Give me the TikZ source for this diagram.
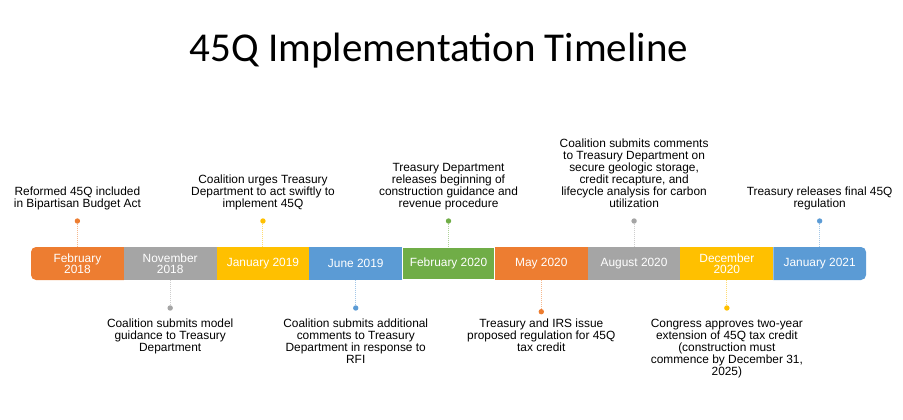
\documentclass[tikz,border=0pt]{standalone}
\usepackage{fontspec}
\setmainfont{Liberation Sans}
\newfontfamily\titlefont{Carlito}
\usetikzlibrary{positioning,backgrounds}
\definecolor{tlorange}{HTML}{ED7D31}
\definecolor{tlgray}{HTML}{A5A5A5}
\definecolor{tlgold}{HTML}{FFC000}
\definecolor{tlblue}{HTML}{5B9BD5}
\definecolor{tlgreen}{HTML}{70AD47}
\begin{document}
\begin{tikzpicture}[x=1pt,y=1pt]
    \tikzstyle{every node}+=[inner sep=0pt, outer sep=0pt]
    \tikzstyle{seg}=[minimum width=92.78pt, minimum height=33pt, text=white, align=center, font=\fontsize{11.9}{11.5}\selectfont]
    \tikzstyle{tdot}=[circle, minimum size=5.4pt]
    \tikzstyle{note}=[align=center, font=\fontsize{11.9}{12}\selectfont]
    \tikzstyle{upnote}=[note, execute at end node={\vphantom{g}}]
    \tikzstyle{stem}=[line width=1pt, dash pattern=on 1pt off 1pt]
    \useasboundingbox (0,0) rectangle (903,-420);
    \node [anchor=base, font=\titlefont\fontsize{41}{41}\selectfont] (title) at (439,-62) {45Q Implementation Timeline};
    \node [seg] (s1) at (77.4,-263.5) {February\\2018};
    \node [seg, fill=tlgray, right=0pt of s1] (s2) {November\\2018};
    \node [seg, fill=tlgold, right=0pt of s2] (s3) {January 2019};
    \node [seg, fill=tlblue, right=0pt of s3] (s4) {June 2019};
    \node [seg, fill=tlgreen, draw=white, line width=1.2pt, right=0pt of s4] (s5) {February 2020};
    \node [seg, fill=tlorange, right=0pt of s5] (s6) {May 2020};
    \node [seg, fill=tlgray, right=0pt of s6] (s7) {August 2020};
    \node [seg, fill=tlgold, right=0pt of s7] (s8) {December\\2020};
    \node [seg, right=0pt of s8] (s9) {January 2021};
    \begin{scope}[on background layer]
        \fill [tlorange, rounded corners=5pt] (s1.north east) -- (s1.north west) -- (s1.south west) -- (s1.south east);
        \fill [tlblue, rounded corners=5pt] (s9.north west) -- (s9.north east) -- (s9.south east) -- (s9.south west);
    \end{scope}
    \node [tdot, fill=tlorange, above=23.3pt of s1] (d1) {};
    \node [tdot, fill=tlgray, below=25.3pt of s2] (d2) {};
    \node [tdot, fill=tlgold, above=23.3pt of s3] (d3) {};
    \node [tdot, fill=tlblue, below=25.3pt of s4] (d4) {};
    \node [tdot, fill=tlgreen, above=23.3pt of s5] (d5) {};
    \node [tdot, fill=tlorange, below=29pt of s6] (d6) {};
    \node [tdot, fill=tlgray, above=23.3pt of s7] (d7) {};
    \node [tdot, fill=tlgold, below=25.3pt of s8] (d8) {};
    \node [tdot, fill=tlblue, above=23.3pt of s9] (d9) {};
    \draw [stem, tlorange!55] (d1) -- (s1);
    \draw [stem, tlgray!55] (d2) -- (s2);
    \draw [stem, tlgold!55] (d3) -- (s3);
    \draw [stem, tlblue!55] (d4) -- (s4);
    \draw [stem, tlgreen!55] (d5) -- (s5);
    \draw [stem, tlorange!55] (d6) -- (s6);
    \draw [stem, tlgray!55] (d7) -- (s7);
    \draw [stem, tlgold!55] (d8) -- (s8);
    \draw [stem, tlblue!55] (d9) -- (s9);
    \node [upnote, above=8.8pt of d1] (n1) {Reformed 45Q included\\in Bipartisan Budget Act};
    \node [note, below=8.6pt of d2] (n2) {Coalition submits model\\guidance to Treasury\\Department};
    \node [upnote, above=8.8pt of d3] (n3) {Coalition urges Treasury\\Department to act swiftly to\\implement 45Q};
    \node [note, below=8.6pt of d4] (n4) {Coalition submits additional\\comments to Treasury\\Department in response to\\RFI};
    \node [upnote, above=8.8pt of d5] (n5) {Treasury Department\\releases beginning of\\construction guidance and\\revenue procedure};
    \node [note, below=4.9pt of d6] (n6) {Treasury and IRS issue\\proposed regulation for 45Q\\tax credit};
    \node [upnote, above=8.8pt of d7] (n7) {Coalition submits comments\\to Treasury Department on\\secure geologic storage,\\credit recapture, and\\lifecycle analysis for carbon\\utilization};
    \node [note, below=8.6pt of d8] (n8) {Congress approves two-year\\extension of 45Q tax credit\\(construction must\\commence by December 31,\\2025)};
    \node [upnote, above=8.8pt of d9] (n9) {Treasury releases final 45Q\\regulation};
\end{tikzpicture}
\end{document}
